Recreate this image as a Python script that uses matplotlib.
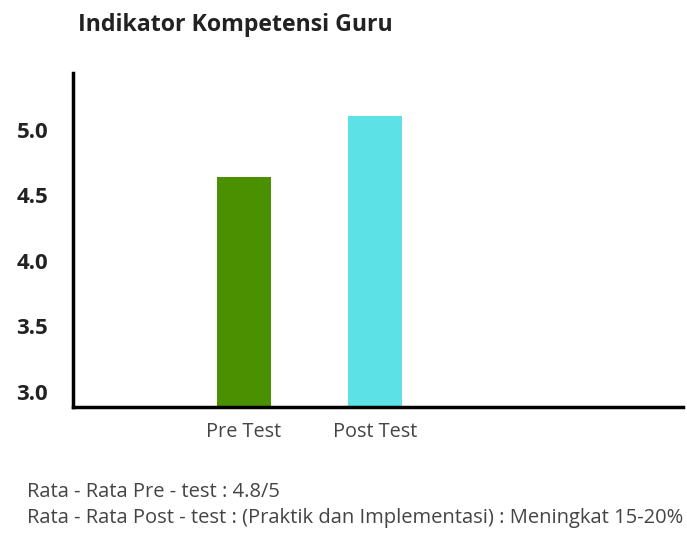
import matplotlib.pyplot as plt

# data
kategori = ["Pre Test", "Post Test"]
nilai = [4.64, 5.11]
warna = ["#4a9000", "#5ce1e6"]
yticks = [3.0, 3.5, 4.0, 4.5, 5.0]
catatan = [
    "Rata - Rata Pre - test : 4.8/5",
    "Rata - Rata Post - test : (Praktik dan Implementasi) : Meningkat 15-20%",
]

plt.rcParams["font.family"] = ["Open Sans", "DejaVu Sans"]

fig = plt.figure(figsize=(6.87, 5.36), dpi=100)
ax = fig.add_axes([0.1063, 0.2407, 0.8877, 0.6231])

x = range(len(kategori))
ax.bar(x, nilai, width=0.41, color=warna, bottom=0)

ax.set_ylim(2.885, 5.435)
ax.set_xlim(-1.30, 3.34)
ax.set_yticks(yticks)
ax.set_yticklabels([f"{v:.1f}" for v in yticks], fontsize=16, fontweight="bold", color="#222222")
ax.set_xticks(list(x))
ax.set_xticklabels(kategori, fontsize=14.3, color="#444444")
ax.tick_params(axis="y", length=0, pad=18)
ax.tick_params(axis="x", length=0, pad=11)

for s in ["top", "right"]:
    ax.spines[s].set_visible(False)
for s in ["left", "bottom"]:
    ax.spines[s].set_linewidth(2.5)
    ax.spines[s].set_color("black")

fig.text(78 / 687, 1 - 25 / 536, "Indikator Kompetensi Guru", fontsize=16.7,
         fontweight="bold", color="#222222", va="center", ha="left")

fig.text(27 / 687, 1 - 492 / 536, catatan[0], fontsize=14.5, color="#444444", va="center")
fig.text(27 / 687, 1 - 518 / 536, catatan[1], fontsize=14.5, color="#444444", va="center")

fig.savefig("out.png", dpi=100)
